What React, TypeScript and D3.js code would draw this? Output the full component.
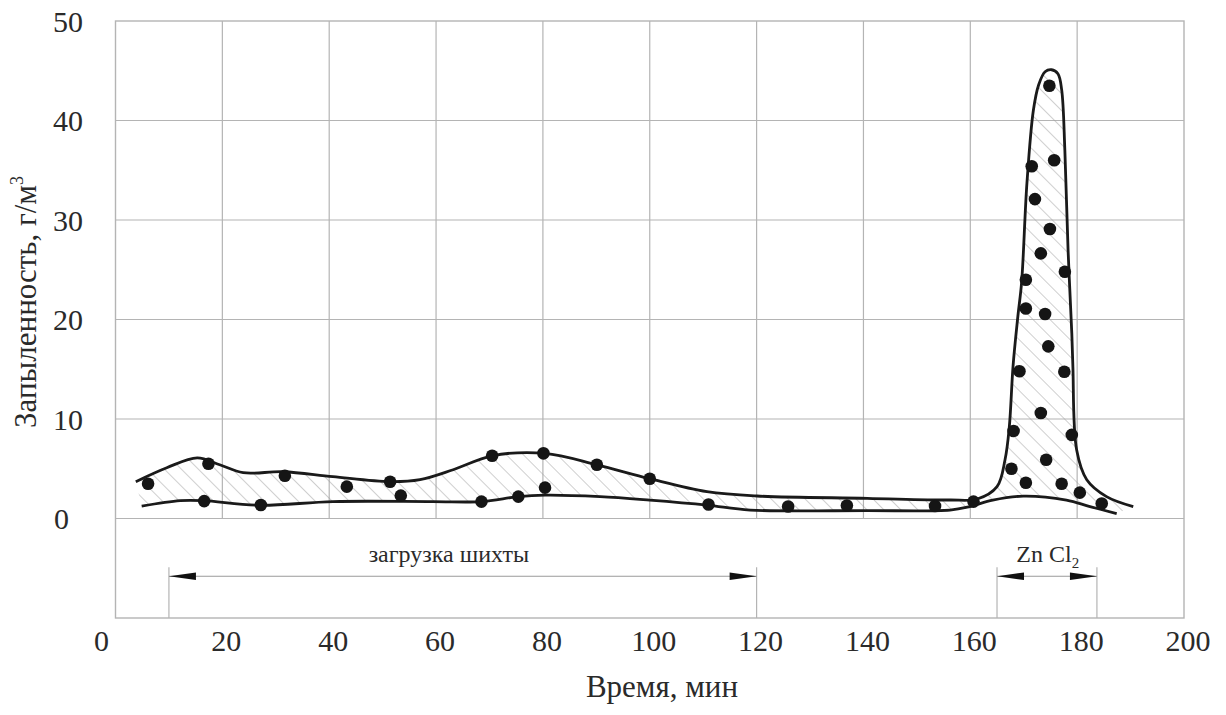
import React from "react";
import * as d3 from "d3";

// Time axis (min) and dust concentration (g/m^3)
const xTicks = [0, 20, 40, 60, 80, 100, 120, 140, 160, 180, 200];
const yTicks = [0, 10, 20, 30, 40, 50];

// Upper envelope curve [time, value]
const upperCurve: [number, number][] = [
  [3.8, 3.7], [9.6, 5.1], [15.3, 6.1], [19.5, 5.4], [23.9, 4.6], [31.4, 4.7], [40.7, 4.2],
  [51.4, 3.7], [57, 3.9], [63.2, 4.9], [70.5, 6.3], [80.4, 6.55], [90.1, 5.4],
  [100, 4.0], [110.7, 2.7], [120.1, 2.26], [140.7, 2.03], [156.2, 1.86], [161.3, 1.96],
  [165, 3.2], [166.5, 5.9], [167.3, 9.2], [168, 15.3], [168.9, 20.3], [169.6, 23.7],
  [170.6, 33.7], [171.8, 41], [172.8, 43.6], [174.0, 44.9], [175.2, 45.1], [176.4, 44.7],
  [177.1, 43.1], [177.7, 37], [178.3, 27], [179.0, 18.6], [179.2, 15.3], [179.9, 6.9],
  [181.8, 3.9], [185.5, 2.2], [190.5, 1.2],
];

// Lower envelope curve [time, value]
const lowerCurve: [number, number][] = [
  [4.9, 1.25], [12.1, 1.8], [16.4, 1.8], [27.0, 1.33], [40.7, 1.7], [59.4, 1.7],
  [68.5, 1.7], [75.4, 2.2], [80.4, 2.35], [90.7, 2.2], [100, 1.85], [110.7, 1.35],
  [118.8, 0.85], [140.6, 0.8], [156.2, 0.85], [159.9, 1.2], [164.2, 1.85], [169.9, 2.25],
  [178, 1.85], [182.4, 1.2], [187.4, 0.5],
];

// Measured points
const pointTimes = [
  6.1, 17.4, 16.6, 27.2, 31.7, 43.3, 51.4, 53.4, 68.5, 70.5, 75.4, 80.1, 80.4, 90.1,
  100.0, 111.0, 125.9, 136.9, 153.4, 160.6, 184.6, 180.5, 177.1, 170.4, 167.7, 174.2,
  168.1, 179.0, 173.2, 169.2, 177.6, 174.6, 170.4, 174.0, 177.7, 170.4, 173.2, 174.9,
  172.1, 175.7, 171.5, 174.8,
];
const pointValues = [
  3.5, 5.5, 1.75, 1.35, 4.3, 3.2, 3.7, 2.3, 1.7, 6.3, 2.2, 6.55, 3.1, 5.4,
  4.0, 1.4, 1.2, 1.3, 1.25, 1.7, 1.5, 2.6, 3.5, 3.6, 5.0, 5.9,
  8.8, 8.4, 10.6, 14.8, 14.75, 17.3, 21.1, 20.55, 24.8, 24.0, 26.65, 29.1,
  32.1, 36.0, 35.4, 43.5,
];

// Annotation ranges (time)
const rangeLabels = ["загрузка шихты", "Zn Cl"];
const rangeStarts = [10, 165.0];
const rangeEnds = [120, 183.7];
const rangeLabelCenters = [62.4, 174.5];

export default function App() {
  const width = 1226;
  const height = 715;
  const x = d3.scaleLinear().domain([0, 200]).range([115.5, 1184]);
  const y = d3.scaleLinear().domain([-10, 50]).range([618, 21]);

  const line = d3
    .line<[number, number]>()
    .x((d) => x(d[0]))
    .y((d) => y(d[1]))
    .curve(d3.curveCatmullRom.alpha(0.5));

  const upperD = line(upperCurve) || "";
  const lowerD = line(lowerCurve) || "";
  const lowerRev = line([...lowerCurve].reverse()) || "";
  const areaD = upperD + "L" + lowerRev.slice(1) + "Z";

  const gridColor = "#b4b4b4";
  const font = "Liberation Serif, Times New Roman, serif";
  const textColor = "#2a2a2a";

  const arrowY = y(-5.8);
  const tickTop = y(-4.9);
  const labelY = y(-4.35);

  const arrowHead = (tipX: number, dir: number) => {
    const len = 27;
    const hh = 3.8;
    return `M${tipX},${arrowY} L${tipX + dir * len},${arrowY - hh} L${tipX + dir * len},${arrowY + hh} Z`;
  };

  return (
    <svg
      width={width}
      height={height}
      style={{ position: "absolute", left: 0, top: 0, background: "#fff" }}
    >
      <defs>
        <pattern
          id="hatch"
          width={12}
          height={12}
          patternUnits="userSpaceOnUse"
          patternTransform="rotate(-45)"
        >
          <line x1={0} y1={0} x2={0} y2={12} stroke="#a0a0a0" strokeWidth={1} />
        </pattern>
      </defs>
      <rect x={0} y={0} width={width} height={height} fill="#fff" />

      {/* grid */}
      {xTicks.slice(1, -1).map((t) => (
        <line key={"vx" + t} x1={x(t)} x2={x(t)} y1={y(50)} y2={y(0)} stroke={gridColor} strokeWidth={1.2} />
      ))}
      {yTicks.slice(0, -1).map((t) => (
        <line key={"hy" + t} x1={x(0)} x2={x(200)} y1={y(t)} y2={y(t)} stroke={gridColor} strokeWidth={1.2} />
      ))}
      <rect
        x={x(0)}
        y={y(50)}
        width={x(200) - x(0)}
        height={y(-10) - y(50)}
        fill="none"
        stroke={gridColor}
        strokeWidth={1.4}
      />

      {/* tick labels */}
      {xTicks.map((t) => (
        <text
          key={"xl" + t}
          x={x(t) + (t === 0 ? -14 : 4)}
          y={651}
          textAnchor="middle"
          fontFamily={font}
          fontSize={30}
          fill={textColor}
        >
          {t}
        </text>
      ))}
      {yTicks.map((t) => (
        <text
          key={"yl" + t}
          x={t === 0 ? 69 : 83}
          y={y(t)}
          dy="0.35em"
          textAnchor="end"
          fontFamily={font}
          fontSize={30}
          fill={textColor}
        >
          {t}
        </text>
      ))}

      {/* axis titles */}
      <text x={662} y={697} textAnchor="middle" fontFamily={font} fontSize={31} fill={textColor}>
        Время, мин
      </text>
      <text
        transform={`translate(36, 302) rotate(-90)`}
        textAnchor="middle"
        fontFamily={font}
        fontSize={31}
        fill={textColor}
      >
        Запыленность, г/м
        <tspan fontSize={18} dy={-13}>3</tspan>
      </text>

      {/* hatched region */}
      <path d={areaD} fill="url(#hatch)" stroke="none" />
      <path d={upperD} fill="none" stroke="#1a1a1a" strokeWidth={2.8} />
      <path d={lowerD} fill="none" stroke="#1a1a1a" strokeWidth={2.8} />

      {/* points */}
      {pointTimes.map((t, i) => (
        <circle key={"p" + i} cx={x(t)} cy={y(pointValues[i])} r={6.3} fill="#151515" />
      ))}

      {/* range annotations */}
      {rangeLabels.map((lab, i) => {
        const x0 = x(rangeStarts[i]);
        const x1 = x(rangeEnds[i]);
        return (
          <g key={"r" + i}>
            <line x1={x0} x2={x0} y1={tickTop} y2={y(-10)} stroke={gridColor} strokeWidth={1.2} />
            <line x1={x1} x2={x1} y1={tickTop} y2={y(-10)} stroke={gridColor} strokeWidth={1.2} />
            <line x1={x0} x2={x1} y1={arrowY} y2={arrowY} stroke="#9a9a9a" strokeWidth={1.1} />
            <path d={arrowHead(x0, 1)} fill="#111" />
            <path d={arrowHead(x1, -1)} fill="#111" />
            <text
              x={x(rangeLabelCenters[i])}
              y={labelY}
              textAnchor="middle"
              fontFamily={font}
              fontSize={24}
              fill={textColor}
            >
              {lab}
              {i === 1 ? (
                <tspan fontSize={15} dy={6}>2</tspan>
              ) : null}
            </text>
          </g>
        );
      })}
    </svg>
  );
}
